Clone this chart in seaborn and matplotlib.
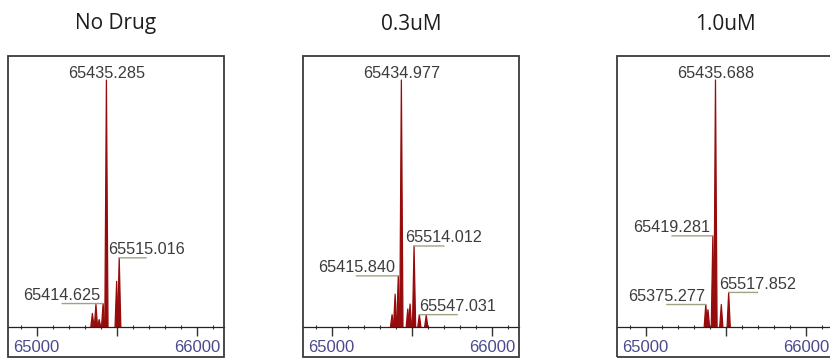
import matplotlib
matplotlib.use("Agg")
import matplotlib.pyplot as plt
from matplotlib.patches import Rectangle
from matplotlib.ticker import FixedLocator, MultipleLocator
import pandas as pd
import seaborn as sns

# Deconvoluted mass spectra, one panel per treatment
conditions = ["No Drug", "0.3uM", "1.0uM"]

mass_no_drug = [65348.0, 65370.0, 65390.0, 65414.625, 65435.285, 65499.0, 65515.016]
int_no_drug = [5.5, 9.2, 3.0, 9.5, 100.0, 18.5, 28.0]
labeled_no_drug = [65414.625, 65435.285, 65515.016]

mass_03uM = [65377.0, 65396.0, 65415.840, 65434.977, 65475.0, 65489.0,
             65514.012, 65547.031, 65590.0]
int_03uM = [5.0, 13.3, 20.7, 100.0, 7.3, 9.3, 32.8, 5.0, 4.8]
labeled_03uM = [65415.840, 65434.977, 65514.012, 65547.031]

mass_1uM = [65375.277, 65389.0, 65419.281, 65435.688, 65472.0, 65517.852]
int_1uM = [9.1, 7.0, 36.9, 100.0, 9.1, 14.0]
labeled_1uM = [65375.277, 65419.281, 65435.688, 65517.852]

tick_values = [65000, 65500, 66000]
tick_labels = ["65000", "", "66000"]
mass_range = (64822, 66168)

# horizontal offsets (pixels) of each peak label from its peak
label_dx = [
    [-41, 0, 27],
    [-42, 0, 30, 38],
    [-39, -41, 0, 29],
]

spectra = [
    (mass_no_drug, int_no_drug, labeled_no_drug),
    (mass_03uM, int_03uM, labeled_03uM),
    (mass_1uM, int_1uM, labeled_1uM),
]

# ---- layout (pixels) ----
W, H, DPI = 830, 358, 100
box_left = [8, 303, 617]
box_w = 216
box_top, box_bottom, baseline = 56, 357, 327
px_per_pct = 2.47
ymax = (baseline - box_top) / px_per_pct
ymin = -(box_bottom - baseline) / px_per_pct
PT = 72.0 / DPI  # points per pixel

peak_color = "#960b0b"
leader_color = "#a2a283"
label_color = "#3c3c3c"
half_width = 10.0  # Da, half base width of a drawn peak

sns.set_theme(style="white")
plt.rcParams["font.family"] = ["Liberation Sans", "DejaVu Sans"]

fig = plt.figure(figsize=(W / DPI, H / DPI), dpi=DPI)

for i, (title, (masses, ints, labeled)) in enumerate(zip(conditions, spectra)):
    L = box_left[i]
    ax = fig.add_axes([L / W, 1 - box_bottom / H, box_w / W,
                       (box_bottom - box_top) / H])

    # peak outlines as narrow spikes
    rows = []
    for k, (m, h) in enumerate(zip(masses, ints)):
        rows += [(k, m - half_width, 0.0), (k, m, h), (k, m + half_width, 0.0)]
    df = pd.DataFrame(rows, columns=["peak", "mass", "intensity"])
    sns.lineplot(data=df, x="mass", y="intensity", units="peak",
                 estimator=None, sort=False, color=peak_color, lw=0.9,
                 legend=False, ax=ax)
    for k, g in df.groupby("peak"):
        ax.fill(g["mass"], g["intensity"], color=peak_color, lw=0)

    # peak labels with leader lines
    for m, dx in zip(labeled, label_dx[i]):
        h = ints[masses.index(m)]
        if dx == 0:
            ax.annotate(f"{m:.3f}", xy=(m, h), xytext=(0, 2 * PT),
                        textcoords="offset points", ha="center", va="baseline",
                        fontsize=11.7, color=label_color)
        else:
            ax.annotate("", xy=(m, h), xytext=(dx * PT, 0),
                        textcoords="offset points",
                        arrowprops=dict(arrowstyle="-", color=leader_color,
                                        lw=1.0, shrinkA=0, shrinkB=0))
            ax.annotate(f"{m:.3f}", xy=(m, h), xytext=(dx * PT, 3.5 * PT),
                        textcoords="offset points", ha="center", va="baseline",
                        fontsize=11.7, color=label_color)

    ax.set_xlim(*mass_range)
    ax.set_ylim(ymin, ymax)
    ax.set_xlabel("")
    ax.set_ylabel("")
    ax.set_yticks([])

    for side in ("top", "right", "left"):
        ax.spines[side].set_visible(False)
    ax.spines["bottom"].set_position(("data", 0))
    ax.spines["bottom"].set_color("#222222")
    ax.spines["bottom"].set_linewidth(0.9)

    ax.xaxis.set_major_locator(FixedLocator(tick_values))
    ax.set_xticklabels(tick_labels)
    ax.xaxis.set_minor_locator(MultipleLocator(100))
    ax.tick_params(axis="x", which="major", direction="out", length=6.5,
                   width=1.0, color="#333333", labelsize=12,
                   labelcolor="#4a4a8c", pad=2.5, bottom=True)
    ax.tick_params(axis="x", which="minor", direction="inout", length=3.2,
                   width=0.8, color="#333333", bottom=True)

    # frame around the panel
    ax.add_patch(Rectangle((0, 0), 1, 1, transform=ax.transAxes, fill=False,
                           lw=1.3, ec="#3a3a3a", clip_on=False, zorder=5))

    fig.text((L + box_w / 2) / W, 1 - 24 / H, title, ha="center",
             va="center", fontsize=15, color="#1e1e1e",
             family=["Open Sans", "DejaVu Sans"])

fig.savefig("out.png", dpi=DPI)
